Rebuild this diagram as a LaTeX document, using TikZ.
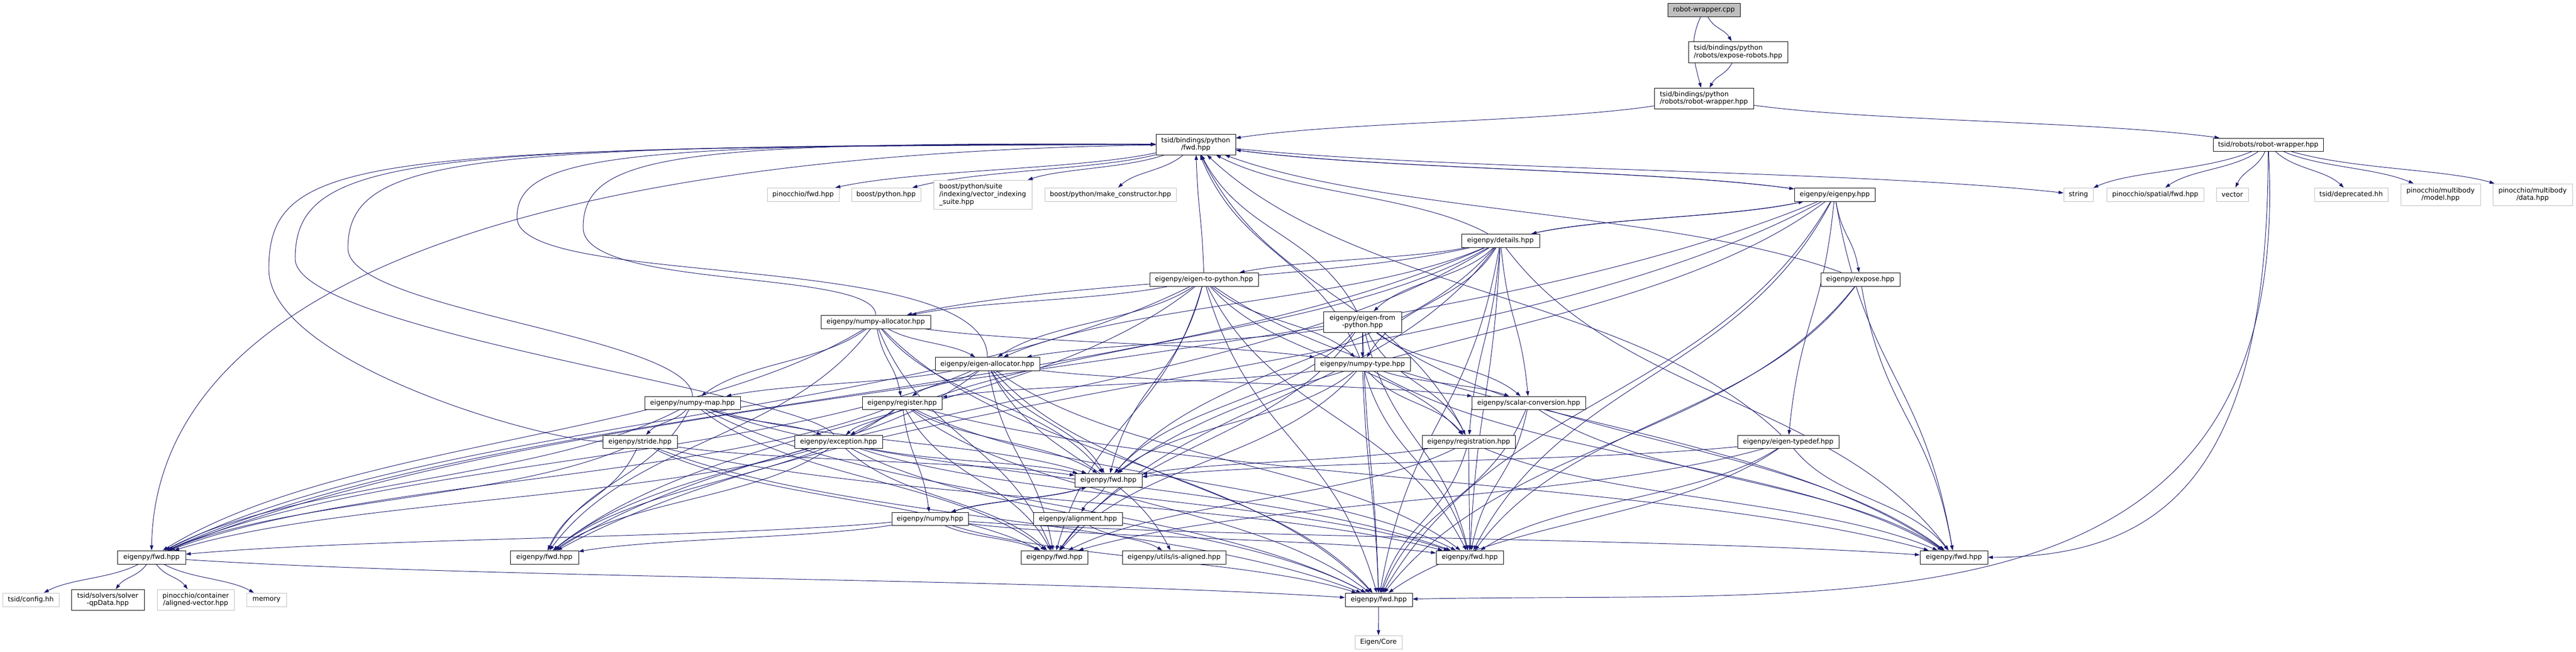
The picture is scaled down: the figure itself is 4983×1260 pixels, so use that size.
\documentclass[tikz,border=0pt]{standalone}
\usepackage{fontspec}
\setmainfont{DejaVu Sans}
\usetikzlibrary{arrows.meta,backgrounds}

\definecolor{edgeblue}{HTML}{191970}
\definecolor{extgray}{HTML}{BFBFBF}

\tikzset{
  file/.style={draw=black, fill=white, line width=0.5pt, inner sep=0pt, align=center,
    font=\fontsize{7.4}{8.4}\selectfont},
  extfile/.style={file, draw=extgray},
  rootfile/.style={file, fill=extgray},
  sz/.style 2 args={minimum width=#1*0.02cm, minimum height=#2*0.02cm},
  inc/.style={draw=edgeblue, line width=0.55pt, -{Triangle[length=0.19cm,width=0.13cm]}},
}

% include edge: leaves downwards, bends like a dot spline
\newcommand{\incl}[2]{%
  \path (#1) -- coordinate[pos=0.25] (ca) coordinate[pos=0.5] (cm) coordinate[pos=0.75] (cb) (#2);%
  \draw[inc] (#1) .. controls (cm -| ca) and (cm -| cb) .. (#2);}

\begin{document}
\begin{tikzpicture}[x=0.02cm, y=-0.02cm]
  \useasboundingbox (0,0) rectangle (4983,1260);

  % top of the graph
  \node[rootfile, sz={140}{26}] (cpp) at (3296,19) {robot-wrapper.cpp};
  \node[file, align=left, sz={192}{41}] (expose) at (3362,100.5) {tsid/bindings/python\\/robots/expose-robots.hpp};
  \node[file, align=left, sz={192}{40}] (pyrw) at (3296,190) {tsid/bindings/python\\/robots/robot-wrapper.hpp};
  \node[file, sz={154}{40}] (pyfwd) at (2313,279) {tsid/bindings/python\\/fwd.hpp};
  \node[file, sz={213}{25}] (tsidrw) at (4387.5,279.5) {tsid/robots/robot-wrapper.hpp};

  % second row
  \node[extfile, sz={139}{26}] (pinfwd) at (1553.5,376) {pinocchio/fwd.hpp};
  \node[extfile, sz={134}{26}] (bpy) at (1714,376) {boost/python.hpp};
  \node[extfile, align=left, sz={190}{56}] (vis) at (1901,376) {boost/python/suite\\/indexing/vector\_indexing\\\_suite.hpp};
  \node[extfile, sz={254}{26}] (mkc) at (2148,376) {boost/python/make\_constructor.hpp};
  \node[file, sz={156}{26}] (eigenpy) at (3549,376) {eigenpy/eigenpy.hpp};
  \node[extfile, sz={57}{26}] (string) at (4020.5,376) {string};
  \node[extfile, sz={188}{26}] (spfwd) at (4169,376) {pinocchio/spatial/fwd.hpp};
  \node[extfile, sz={62}{26}] (vector) at (4318,376) {vector};
  \node[extfile, sz={142}{26}] (depr) at (4548,376) {tsid/deprecated.hh};
  \node[extfile, sz={154}{42}] (model) at (4721,376) {pinocchio/multibody\\/model.hpp};
  \node[extfile, sz={154}{42}] (data) at (4899,376) {pinocchio/multibody\\/data.hpp};

  % eigenpy headers
  \node[file, sz={151}{26}] (details) at (2902.5,465) {eigenpy/details.hpp};
  \node[file, sz={153}{26}] (exposeh) at (3598.5,540) {eigenpy/expose.hpp};
  \node[file, sz={210}{26}] (e2p) at (2329,540) {eigenpy/eigen-to-python.hpp};
  \node[file, sz={212}{26}] (nalloc) at (1694,622) {eigenpy/numpy-allocator.hpp};
  \node[file, sz={151}{40}] (efp) at (2635.5,622) {eigenpy/eigen-from\\-python.hpp};
  \node[file, sz={185}{26}] (ntype) at (2635.5,704) {eigenpy/numpy-type.hpp};
  \node[file, sz={202}{26}] (ealloc) at (1910,703.5) {eigenpy/eigen-allocator.hpp};
  \node[file, sz={185}{25}] (nmap) at (1339.5,778.5) {eigenpy/numpy-map.hpp};
  \node[file, sz={154}{25}] (reg) at (1745,778.5) {eigenpy/register.hpp};
  \node[file, sz={220}{25}] (scalar) at (2957,778.5) {eigenpy/scalar-conversion.hpp};
  \node[file, sz={144}{25}] (stride) at (1238,853.5) {eigenpy/stride.hpp};
  \node[file, sz={170}{25}] (exc) at (1622,853.5) {eigenpy/exception.hpp};
  \node[file, sz={180}{25}] (regis) at (2841,853.5) {eigenpy/registration.hpp};
  \node[file, sz={196}{25}] (etd) at (3459,853.5) {eigenpy/eigen-typedef.hpp};
  \node[file, sz={130}{26}] (fwda) at (2144,928) {eigenpy/fwd.hpp};
  \node[file, sz={148}{25}] (numpy) at (1799,1002.5) {eigenpy/numpy.hpp};
  \node[file, sz={172}{25}] (align) at (2085,1002.5) {eigenpy/alignment.hpp};

  % bottom rows
  \node[file, sz={132}{26}] (fwde) at (293,1077) {eigenpy/fwd.hpp};
  \node[file, sz={132}{26}] (fwdf) at (1053,1077) {eigenpy/fwd.hpp};
  \node[file, sz={129}{26}] (fwdb) at (2039.5,1077) {eigenpy/fwd.hpp};
  \node[file, sz={200}{26}] (isal) at (2271,1077) {eigenpy/utils/is-aligned.hpp};
  \node[file, sz={130}{26}] (fwdc) at (2843,1077) {eigenpy/fwd.hpp};
  \node[file, sz={131}{26}] (fwdg) at (3779.5,1077) {eigenpy/fwd.hpp};
  \node[file, sz={130}{26}] (fwdd) at (2667,1159) {eigenpy/fwd.hpp};
  \node[extfile, sz={109}{26}] (config) at (59.5,1159) {tsid/config.hh};
  \node[file, sz={141}{40}] (solver) at (208.5,1159) {tsid/solvers/solver\\-qpData.hpp};
  \node[extfile, sz={149}{40}] (avec) at (378.5,1159) {pinocchio/container\\/aligned-vector.hpp};
  \node[extfile, sz={77}{26}] (memory) at (515.5,1159) {memory};
  \node[extfile, sz={91}{26}] (core) at (2666.5,1241) {Eigen/Core};

  % includes
  \begin{scope}[on background layer]
    \draw[inc] (cpp) to[out=-115,in=105] (pyrw);
    \draw[inc] (tsidrw) .. controls (4387,900) and (4200,1077) .. (fwdg);
    \draw[inc] (tsidrw) .. controls (4440,1250) and (3600,1140) .. (fwdd);
    \draw[inc] (pyfwd) .. controls (900,300) and (300,600) .. (fwde);
    % back into tsid/bindings/python/fwd.hpp, round the left
    \draw[inc] (stride) .. controls (1050,853) and (520,700) .. (520,520)
      .. controls (520,300) and (700,285) .. (pyfwd);
    \draw[inc] (exc) .. controls (1560,760) and (571,640) .. (571,500)
      .. controls (571,300) and (800,282) .. (pyfwd);
    \draw[inc] (nmap) .. controls (1339,650) and (673,600) .. (673,480)
      .. controls (673,300) and (900,280) .. (pyfwd);
    \draw[inc] (ealloc) .. controls (1910,480) and (1000,560) .. (1000,420)
      .. controls (1000,300) and (1200,277) .. (pyfwd);
    \draw[inc] (nalloc) .. controls (1694,520) and (1128,560) .. (1128,440)
      .. controls (1128,300) and (1300,274) .. (pyfwd);
    \foreach \s/\t in {cpp/expose, expose/pyrw, pyrw/pyfwd, pyrw/tsidrw,
        tsidrw/string, tsidrw/spfwd, tsidrw/vector, tsidrw/depr, tsidrw/model, tsidrw/data,
        pyfwd/pinfwd, pyfwd/bpy, pyfwd/vis, pyfwd/mkc, pyfwd/eigenpy, pyfwd/string,
        eigenpy/pyfwd, details/pyfwd, exposeh/pyfwd, regis/pyfwd, etd/pyfwd,
        e2p/pyfwd, efp/pyfwd, ntype/pyfwd,
        eigenpy/details, eigenpy/exposeh, eigenpy/etd, eigenpy/fwde, eigenpy/fwdf,
        eigenpy/fwda, eigenpy/fwdc, eigenpy/fwdd, eigenpy/fwdg,
        details/eigenpy, details/e2p, details/efp, details/ntype, details/ealloc,
        details/nalloc, details/scalar, details/regis, details/exc, details/fwde, details/fwdf,
        details/fwda, details/fwdb, details/fwdc, details/fwdd, details/fwdg,
        exposeh/fwdc, exposeh/fwdd, exposeh/fwdg,
        e2p/nalloc, e2p/ealloc, e2p/ntype, e2p/regis, e2p/fwde, e2p/fwdf, e2p/fwda,
        e2p/fwdb, e2p/fwdc, e2p/fwdd, e2p/fwdg,
        nalloc/ealloc, nalloc/ntype, nalloc/reg, nalloc/nmap, nalloc/fwde,
        nalloc/fwdf, nalloc/fwda, nalloc/fwdb, nalloc/fwdd,
        efp/ntype, efp/ealloc, efp/scalar, efp/regis, efp/fwda, efp/fwdb, efp/fwdc,
        efp/fwdd, efp/fwdg,
        ntype/scalar, ntype/reg, ntype/regis, ntype/fwda, ntype/fwdb, ntype/fwdc,
        ntype/fwdd, ntype/fwdg,
        ealloc/nmap, ealloc/reg, ealloc/scalar, ealloc/isal, ealloc/fwde, ealloc/fwdf,
        ealloc/fwda, ealloc/fwdb, ealloc/fwdc, ealloc/fwdd,
        nmap/stride, nmap/exc, nmap/fwde, nmap/fwdf, nmap/fwda, nmap/fwdb, nmap/fwdc,
        nmap/fwdd,
        reg/numpy, reg/exc, reg/fwde, reg/fwdf, reg/fwda, reg/fwdb, reg/fwdc, reg/fwdd,
        reg/fwdg,
        scalar/fwdc, scalar/fwdd, scalar/fwdg,
        stride/fwde, stride/fwdf, stride/fwda, stride/fwdb, stride/fwdc, stride/fwdd,
        exc/fwde, exc/fwdf, exc/fwda, exc/fwdb, exc/fwdc, exc/fwdd,
        regis/fwda, regis/fwdb, regis/fwdc, regis/fwdd, regis/fwdg,
        etd/fwda, etd/fwdb, etd/fwdc, etd/fwdd, etd/fwdg,
        fwda/numpy, fwda/align, align/isal,
        numpy/fwda, numpy/fwdb, numpy/fwdc, numpy/fwdd, numpy/fwde, numpy/fwdf, numpy/fwdg,
        fwde/config, fwde/solver, fwde/avec, fwde/memory, fwde/fwdd,
        fwdd/core}
      {\incl{\s}{\t}}
  \end{scope}
\end{tikzpicture}
\end{document}
